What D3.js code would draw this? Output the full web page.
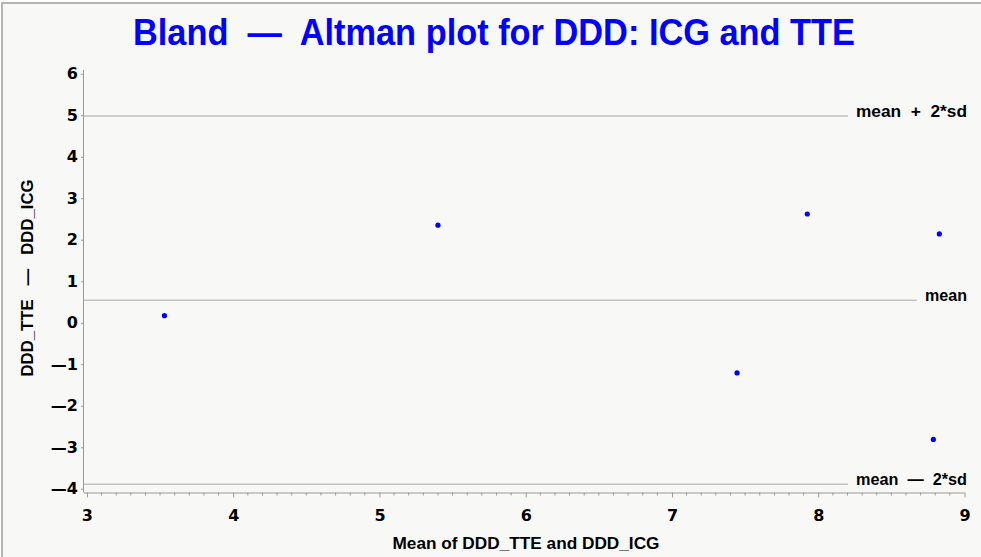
<!DOCTYPE html>
<html>
<head>
<meta charset="utf-8">
<script src="https://cdn.jsdelivr.net/npm/d3@7"></script>
<style>
  html, body { margin: 0; padding: 0; background: #ffffff; }
  svg { display: block; }
  svg text { font-family: "Liberation Sans", Arial, Helvetica, sans-serif; font-weight: bold; white-space: pre; }
  svg .tick text { font-family: "DejaVu Sans", sans-serif; font-weight: bold; font-size: 16px; }
</style>
</head>
<body>
<svg id="chart" width="981" height="557"></svg>
<script>
// Mean of the two methods (x) and their difference (y), one entry per subject
const meanValues = [3.53, 5.40, 7.445, 7.925, 8.828, 8.787];
const diffValues = [0.17, 2.35, -1.21, 2.62, 2.14, -2.81];

// Reference lines: mean difference and limits of agreement
const refLabels = ["mean  +  2*sd", "mean", "mean  \u2014  2*sd"];
const refValues = [4.98, 0.545, -3.89];

const xTicks = [3, 4, 5, 6, 7, 8, 9];
const yTicks = [-4, -3, -2, -1, 0, 1, 2, 3, 4, 5, 6];

const titleText = "Bland  \u2014  Altman plot for DDD: ICG and TTE";
const xTitle = "Mean of DDD_TTE and DDD_ICG";
const yTitle = "DDD_TTE   \u2014   DDD_ICG";

const svg = d3.select("#chart");
const W = 981, H = 557;
const plot = { left: 84, right: 964.5, top: 70, bottom: 492.5 };

// page background and frame
svg.append("rect").attr("x", 0).attr("y", 0).attr("width", W).attr("height", H).attr("fill", "#ffffff");
svg.append("rect").attr("x", 2).attr("y", 3).attr("width", W + 10).attr("height", H + 10)
  .attr("fill", "#f8f8f6").attr("stroke", "#b4b4b4").attr("stroke-width", 2);

const x = d3.scaleLinear().domain([2.98, 9]).range([plot.left, plot.right]);
const y = d3.scaleLinear().domain([-4.09, 6.09]).range([plot.bottom, plot.top]);

const fmt = v => (v < 0 ? "\u2014" + Math.abs(v) : String(v));

// title
svg.append("text")
  .attr("x", 494).attr("y", 45)
  .attr("text-anchor", "middle")
  .attr("fill", "#0000ff")
  .attr("font-size", 37)
  .attr("textLength", 722).attr("lengthAdjust", "spacingAndGlyphs")
  .text(titleText);

// reference lines with labels at the right
const refG = svg.append("g");
const refLen = [111, 42, 111];
refLabels.forEach((lab, i) => {
  const yy = y(refValues[i]);
  refG.append("text")
    .attr("x", 967).attr("y", yy + 1)
    .attr("text-anchor", "end")
    .attr("font-size", 16)
    .attr("fill", "#000")
    .attr("textLength", refLen[i]).attr("lengthAdjust", "spacingAndGlyphs")
    .text(lab);
  refG.append("line")
    .attr("x1", plot.left).attr("x2", 967 - refLen[i] - 8)
    .attr("y1", yy).attr("y2", yy)
    .attr("stroke", "#c2c2c2").attr("stroke-width", 1.5);
});

function styleAxis(g) {
  g.attr("font-size", null).attr("font-family", null);
  g.select(".domain").attr("stroke", "#9a9a9a");
  g.selectAll(".tick line").attr("stroke", "#9a9a9a");
  g.selectAll(".tick text").attr("fill", "#000");
}

// x axis: major ticks at integers, minor ticks every 0.1
const xAxis = d3.axisBottom(x)
  .tickValues(xTicks)
  .tickFormat(fmt)
  .tickSize(5)
  .tickPadding(12)
  .tickSizeOuter(0);
const xg = svg.append("g").attr("transform", `translate(0,${plot.bottom})`).call(xAxis);
styleAxis(xg);
xg.select(".domain").attr("d", `M${plot.left},0.5H${plot.right}`);

const minorX = d3.range(30, 91).map(v => v / 10).filter(v => Math.abs(v - Math.round(v)) > 1e-6);
svg.append("g").selectAll("line").data(minorX).join("line")
  .attr("x1", d => x(d)).attr("x2", d => x(d))
  .attr("y1", plot.bottom).attr("y2", plot.bottom + 3)
  .attr("stroke", "#9a9a9a");

// y axis
const yAxis = d3.axisLeft(y)
  .tickValues(yTicks)
  .tickFormat(fmt)
  .tickSize(3)
  .tickPadding(3)
  .tickSizeOuter(0);
const yg = svg.append("g").attr("transform", `translate(${plot.left},0)`).call(yAxis);
styleAxis(yg);
yg.select(".domain").attr("d", `M-0.5,${plot.top}V${plot.bottom}`);

// axis titles
svg.append("text")
  .attr("x", 526).attr("y", 549)
  .attr("text-anchor", "middle")
  .attr("font-size", 17)
  .attr("textLength", 267).attr("lengthAdjust", "spacingAndGlyphs")
  .text(xTitle);

svg.append("text")
  .attr("transform", "translate(33,278) rotate(-90)")
  .attr("text-anchor", "middle")
  .attr("font-size", 17)
  .attr("textLength", 197).attr("lengthAdjust", "spacingAndGlyphs")
  .text(yTitle);

// points
svg.append("g").selectAll("circle")
  .data(meanValues.map((m, i) => ({ m, d: diffValues[i] })))
  .join("circle")
  .attr("cx", p => x(p.m))
  .attr("cy", p => y(p.d))
  .attr("r", 2.6)
  .attr("fill", "#0000ff");
</script>
</body>
</html>
